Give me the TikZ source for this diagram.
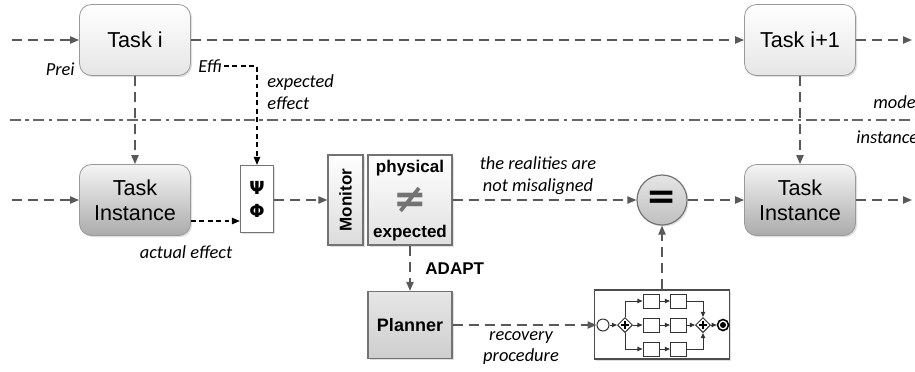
\documentclass[tikz,border=0pt]{standalone}
\usepackage{fontspec}
\setmainfont{Liberation Sans}
\newfontfamily\calib{Carlito}
\newfontfamily\symb{DejaVu Sans}
\usetikzlibrary{arrows.meta,shapes.geometric,shadows}

\begin{document}
\begin{tikzpicture}[x=0.5pt,y=-0.5pt,
  flow/.style={draw=black!65,line width=0.8pt,dash pattern=on 5pt off 3pt,-{Triangle[length=4.5pt,width=3.6pt]}},
  eff/.style={draw=black,line width=0.7pt,dash pattern=on 2.4pt off 1.8pt,-{Triangle[length=4pt,width=3.2pt]}},
  sarr/.style={draw=black!80,line width=0.5pt,-{Triangle[length=2.6pt,width=2.2pt]}},
  shd/.style={drop shadow={opacity=0.25,shadow xshift=0.8pt,shadow yshift=-0.8pt}},
  task/.style={draw=black!40,rounded corners=6pt,minimum width=55.5pt,minimum height=35.5pt,align=center,
    font=\fontsize{10.8}{12.5}\selectfont,shd},
  taskmod/.style={task,top color=white,bottom color=black!10},
  taskinst/.style={task,top color=black!4,bottom color=black!33},
  box/.style={draw=black!55,line width=0.6pt,shd},
  bold/.style={font=\bfseries\fontsize{8.5}{10}\selectfont},
  note/.style={font=\calib\itshape\fontsize{9.2}{11}\selectfont,align=center,inner sep=1pt},
  act/.style={draw=black!80,line width=0.5pt,fill=white,minimum width=8pt,minimum height=7pt,inner sep=0pt},
  gate/.style={diamond,draw=black!80,line width=0.5pt,fill=white,minimum size=7.5pt,inner sep=0pt}]
\fill[white] (0,0) rectangle (915,371);
\clip (0,0) rectangle (915,371);

\draw[black!60,line width=0.7pt,dash pattern=on 5.5pt off 2.2pt on 1.8pt off 2.2pt] (10,120) -- (915,120);

\coordinate (in1) at (12,40);
\coordinate (in2) at (12,200);
\coordinate (out1) at (912,40);
\coordinate (out2) at (912,200);

\node[taskmod] (taski) at (135,40) {Task i};
\node[taskinst] (tinst) at (135,200) {Task\\Instance};
\node[taskmod] (taskn) at (800,40) {Task i+1};
\node[taskinst] (tinstn) at (800,200) {Task\\Instance};

\node[box,fill=white,minimum width=16.5pt,minimum height=33.5pt,align=center,
  font=\symb\bfseries\fontsize{9}{11.5}\selectfont] (psiphi) at (257,199) {Ψ\\Φ};
\node[box,top color=white,bottom color=black!14,minimum width=17.5pt,minimum height=45pt] (mon) at (345.5,200) {};
\node[bold,rotate=90] (montxt) at (mon) {Monitor};
\node[box,top color=white,bottom color=black!12,minimum width=42pt,minimum height=45pt] (phys) at (410,200) {};
\node[bold] (ph1) at ([yshift=16pt]phys.center) {physical};
\node[font=\symb\bfseries\fontsize{20}{20}\selectfont,text=black!55,inner sep=0pt] (neq) at (phys.center) {≠};
\node[bold] (ph2) at ([yshift=-16.5pt]phys.center) {expected};
\node[box,top color=black!10,bottom color=black!19,minimum width=42pt,minimum height=33.5pt,
  font=\bfseries\fontsize{9}{11}\selectfont] (plan) at (410,325) {Planner};
\node[circle,draw=black!55,line width=0.6pt,top color=black!10,bottom color=black!25,minimum size=25pt,
  inner sep=0pt,shd,font=\symb\bfseries\fontsize{18}{18}\selectfont] (eq) at (662,200) {=};

\node[note,anchor=east] (pre) at (77,69) {Prei};
\node[note,anchor=west] (effi) at (196,66) {Effi};
\node[note,anchor=west,align=left] (expd) at (265,92.5) {expected\\effect};
\node[note] (act) at (186,252) {actual effect};
\node[note] (real) at (538,176) {the realities are\\not misaligned};
\node[note,font=\calib\itshape\fontsize{9.2}{10.5}\selectfont] (rec) at (521,348) {recovery\\procedure};
\node[note,anchor=west] (model) at (871,102) {model};
\node[note,anchor=west] (inst) at (854,137) {instance};

\draw[flow] (in1) -- (taski);
\draw[flow] (taski) -- (taskn);
\draw[flow] (taskn) -- (out1);
\draw[flow] (in2) -- (tinst);
\draw[flow] (tinstn) -- (out2);
\draw[flow] (taski) -- (tinst);
\draw[flow] (taskn) -- (tinstn);
\draw[eff] (effi.east) -| (psiphi.north);
\draw[eff] ([yshift=-10.5pt]tinst.east) -- ([yshift=-10.5pt]tinst.east -| psiphi.west);
\draw[flow] (psiphi.east |- mon.west) -- (mon.west);
\draw[flow] (phys) -- (eq);
\draw[flow] (eq) -- (tinstn);
\draw[flow] (phys) -- (plan) node[midway,right=4pt,bold] (adapt) {ADAPT};

\node[box,fill=white,draw=black!70,minimum width=67.5pt,minimum height=34.5pt] (sub) at (662,324.5) {};
\node[circle,draw=black!80,line width=0.5pt,fill=white,minimum size=6pt,inner sep=0pt] (st) at (603,325) {};
\node[gate] (g1) at (625,325) {};
\node[gate] (g2) at (703,325) {};
\node[circle,draw=black,line width=0.8pt,minimum size=5.5pt,inner sep=0pt] (en) at (723,325) {};
\fill (en) circle (1.5pt);
\foreach \g in {g1,g2}
  \draw[line width=0.8pt] ([xshift=-2pt]\g.center) -- ([xshift=2pt]\g.center)
    ([yshift=-2pt]\g.center) -- ([yshift=2pt]\g.center);
\foreach \r/\y in {1/301,2/325,3/349} {
  \node[act] (a\r) at (651,\y) {};
  \node[act] (b\r) at (678.5,\y) {};
  \draw[sarr] (a\r) -- (b\r);
}
\draw[sarr] (st) -- (g1);
\draw[sarr] (g1) -- (a2);
\draw[sarr] (b2) -- (g2);
\draw[sarr] (g2) -- (en);
\draw[sarr] (g1.north) |- (a1.west);
\draw[sarr] (g1.south) |- (a3.west);
\draw[sarr] (b1.east) -| (g2.north);
\draw[sarr] (b3.east) -| (g2.south);

\draw[flow] (plan) -- (st);
\draw[flow] (sub) -- (eq);
\end{tikzpicture}
\end{document}
